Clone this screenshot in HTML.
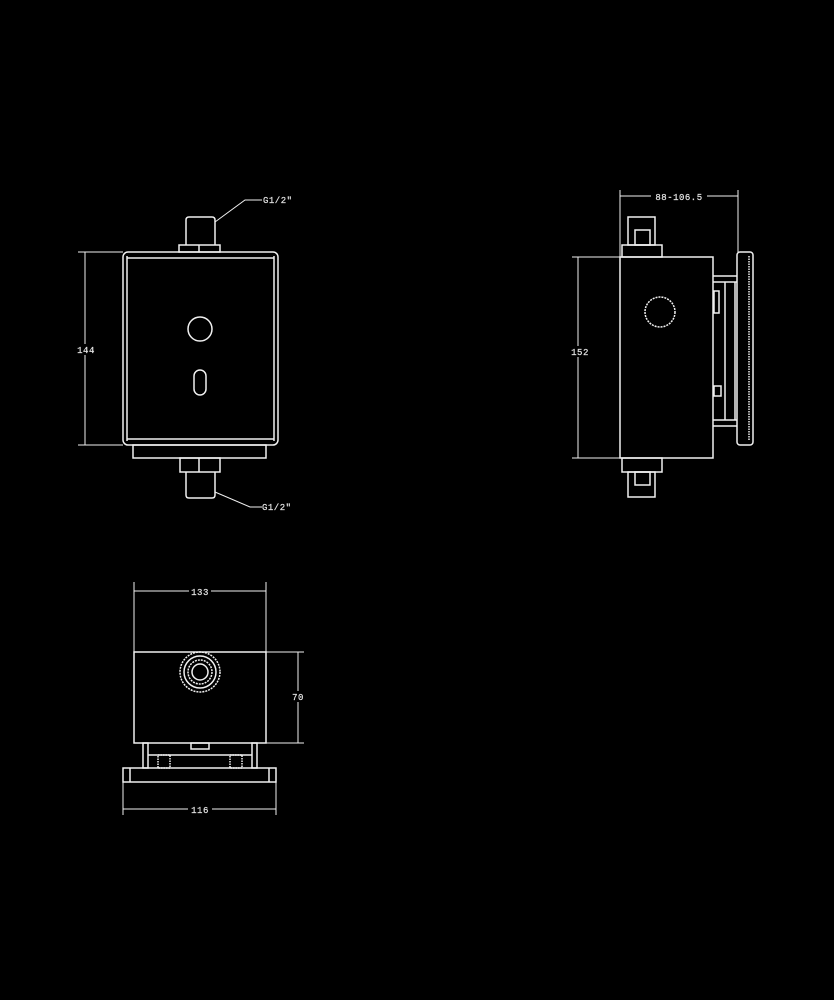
<!DOCTYPE html>
<html><head><meta charset="utf-8"><style>
html,body{margin:0;padding:0;background:#000;width:834px;height:1000px;overflow:hidden}
svg{display:block}
text{font-family:"Liberation Mono",monospace;font-size:9px;fill:#e6e6e6;letter-spacing:0.5px;stroke:#e6e6e6;stroke-width:0.2}
</style></head><body>
<svg width="834" height="1000" viewBox="0 0 834 1000" xmlns="http://www.w3.org/2000/svg">
<rect width="834" height="1000" fill="#000"/>
<g fill="none" stroke="#f0f0f0" stroke-width="1.5">
<!-- FRONT VIEW -->
<rect x="123" y="252" width="155" height="193" rx="5"/>
<line x1="127" y1="258" x2="274" y2="258"/>
<line x1="127" y1="439" x2="274" y2="439"/>
<line x1="127" y1="256" x2="127" y2="441"/>
<line x1="274" y1="256" x2="274" y2="441"/>
<rect x="179" y="245" width="41" height="7"/>
<line x1="199" y1="245" x2="199" y2="252"/>
<path d="M186 245 V220 Q186 217 189 217 H212 Q215 217 215 220 V245"/>
<circle cx="200" cy="329" r="12"/>
<rect x="194" y="370" width="12" height="25" rx="6"/>
<rect x="133" y="445" width="133" height="13"/>
<rect x="180" y="458" width="40" height="14"/>
<line x1="199" y1="458" x2="199" y2="472"/>
<path d="M186 472 V495 Q186 498 189 498 H212 Q215 498 215 495 V472"/>
<line x1="85" y1="252" x2="85" y2="445" stroke-width="1"/>
<line x1="78" y1="252" x2="123" y2="252" stroke-width="1"/>
<line x1="78" y1="445" x2="123" y2="445" stroke-width="1"/>
<path d="M215 222 L245 200 H262" stroke-width="1"/>
<path d="M215 492 L250 507 H262" stroke-width="1"/>
<!-- SIDE VIEW -->
<rect x="620" y="257" width="93" height="201"/>
<rect x="622" y="245" width="40" height="12"/>
<rect x="628" y="217" width="27" height="28"/>
<rect x="635" y="230" width="15" height="15"/>
<rect x="622" y="458" width="40" height="14"/>
<rect x="628" y="472" width="27" height="25"/>
<rect x="635" y="472" width="15" height="13"/>
<circle cx="660" cy="312" r="15" stroke-dasharray="2 1"/>
<line x1="713" y1="276" x2="737" y2="276"/>
<line x1="713" y1="282" x2="737" y2="282"/>
<line x1="713" y1="420" x2="737" y2="420"/>
<line x1="713" y1="426" x2="737" y2="426"/>
<line x1="725" y1="282" x2="725" y2="420"/>
<line x1="735" y1="282" x2="735" y2="420"/>
<rect x="714" y="291" width="5" height="22"/>
<rect x="714" y="386" width="7" height="10"/>
<rect x="737" y="252" width="16" height="193" rx="3"/>
<line x1="749" y1="256" x2="749" y2="441" stroke-dasharray="1.5 1"/>
<line x1="620" y1="196" x2="738" y2="196" stroke-width="1"/>
<line x1="620" y1="190" x2="620" y2="257" stroke-width="1"/>
<line x1="738" y1="190" x2="738" y2="252" stroke-width="1"/>
<line x1="578" y1="257" x2="578" y2="458" stroke-width="1"/>
<line x1="572" y1="257" x2="620" y2="257" stroke-width="1"/>
<line x1="572" y1="458" x2="620" y2="458" stroke-width="1"/>
<!-- BOTTOM VIEW -->
<line x1="134" y1="582" x2="134" y2="652" stroke-width="1"/>
<line x1="266" y1="582" x2="266" y2="652" stroke-width="1"/>
<line x1="134" y1="591" x2="266" y2="591" stroke-width="1"/>
<rect x="134" y="652" width="132" height="91"/>
<circle cx="200" cy="672" r="20" stroke-dasharray="2 1"/>
<circle cx="200" cy="672" r="16"/>
<circle cx="200" cy="672" r="12" stroke-dasharray="2 1"/>
<circle cx="200" cy="672" r="8"/>
<line x1="266" y1="652" x2="304" y2="652" stroke-width="1"/>
<line x1="266" y1="743" x2="304" y2="743" stroke-width="1"/>
<line x1="298" y1="652" x2="298" y2="743" stroke-width="1"/>
<rect x="143" y="743" width="5" height="25"/>
<rect x="252" y="743" width="5" height="25"/>
<line x1="148" y1="755" x2="252" y2="755"/>
<rect x="158" y="755" width="12" height="13" stroke-dasharray="1.5 1"/>
<rect x="230" y="755" width="12" height="13" stroke-dasharray="1.5 1"/>
<rect x="191" y="743" width="18" height="6"/>
<rect x="123" y="768" width="153" height="14"/>
<line x1="130" y1="768" x2="130" y2="782"/>
<line x1="269" y1="768" x2="269" y2="782"/>
<line x1="123" y1="782" x2="123" y2="815" stroke-width="1"/>
<line x1="276" y1="782" x2="276" y2="815" stroke-width="1"/>
<line x1="123" y1="809" x2="276" y2="809" stroke-width="1"/>
</g>
<rect x="76" y="344" width="20" height="11" fill="#000"/>
<rect x="570" y="346" width="20" height="11" fill="#000"/>
<rect x="651" y="191" width="56" height="11" fill="#000"/>
<rect x="189" y="586" width="22" height="11" fill="#000"/>
<rect x="290" y="691" width="16" height="11" fill="#000"/>
<rect x="188" y="804" width="24" height="11" fill="#000"/>
<text x="86" y="353" text-anchor="middle">144</text>
<text x="580" y="355" text-anchor="middle">152</text>
<text x="679" y="200" text-anchor="middle">88-106.5</text>
<text x="200" y="595" text-anchor="middle">133</text>
<text x="298" y="700" text-anchor="middle">70</text>
<text x="200" y="813" text-anchor="middle">116</text>
<text x="263" y="203">G1/2"</text>
<text x="262" y="510">G1/2"</text>
</svg>
</body></html>
